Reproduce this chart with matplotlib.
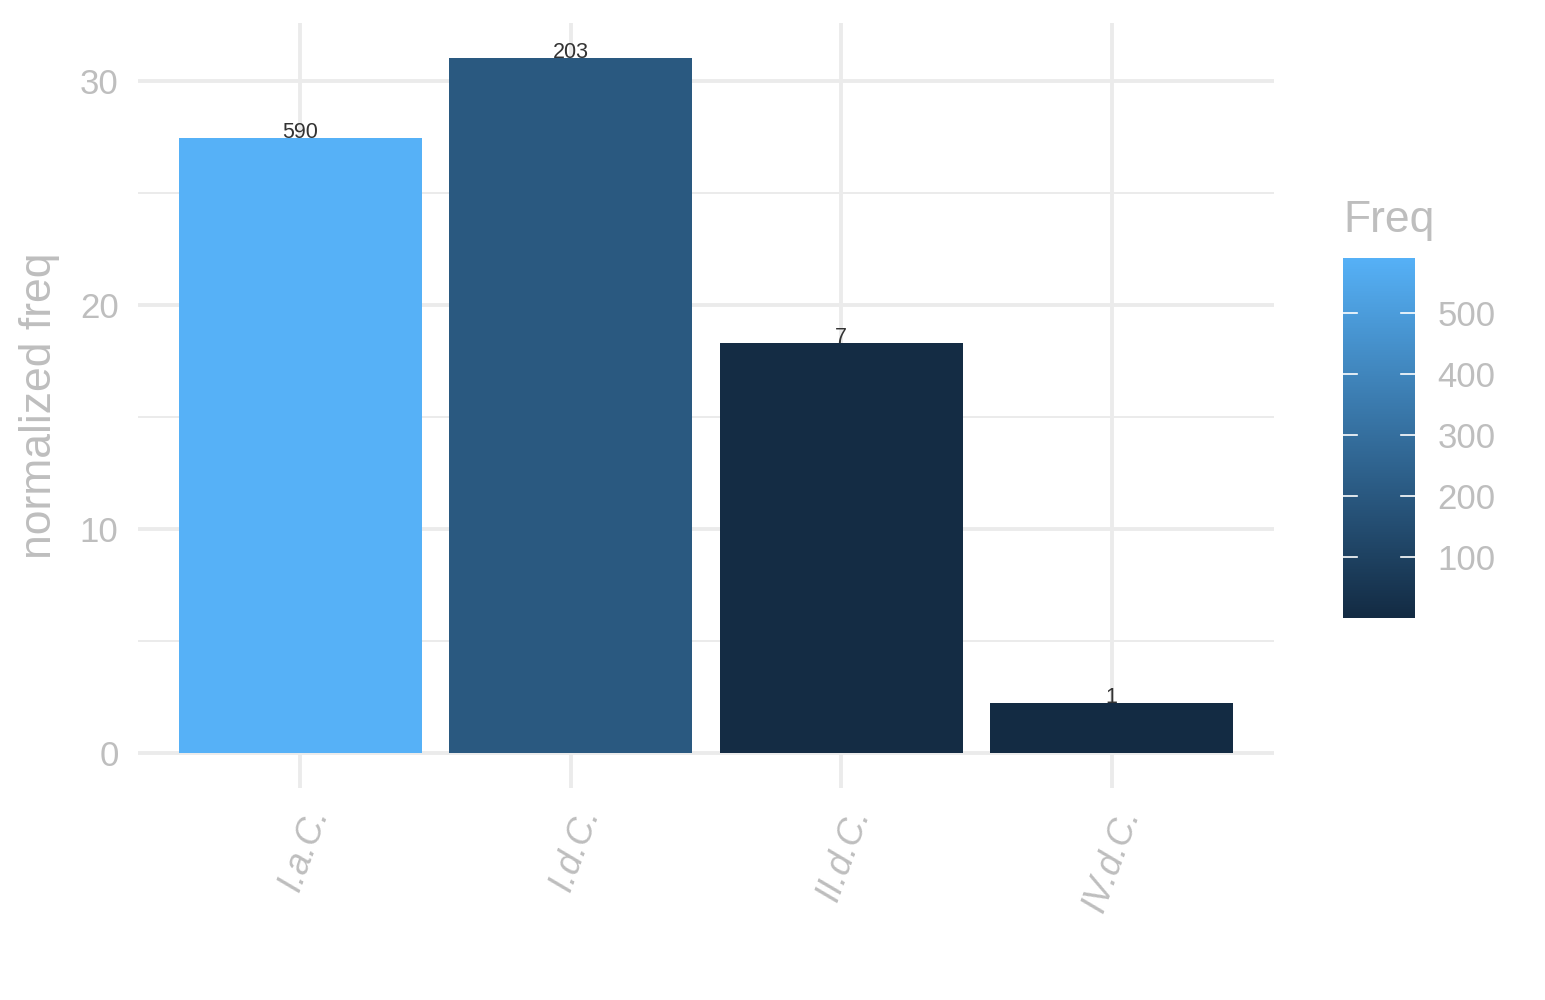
import numpy as np
import matplotlib
matplotlib.use("Agg")
import matplotlib.pyplot as plt
from matplotlib.colors import LinearSegmentedColormap, Normalize
from matplotlib.transforms import ScaledTranslation

plt.rcParams['font.family'] = ['Liberation Sans', 'DejaVu Sans']

# Data
categories = ["I.a.C.", "I.d.C.", "II.d.C.", "IV.d.C."]
norm_freq = [27.46, 31.03, 18.30, 2.25]
freq = [590, 203, 7, 1]
y_ticks = [0, 10, 20, 30]
y_minor = [5, 15, 25]
cbar_ticks = [100, 200, 300, 400, 500]

GREY = "#BEBEBE"
GRID = "#EBEBEB"

cmap = LinearSegmentedColormap.from_list("gg", ["#132B43", "#56B1F7"])
norm = Normalize(vmin=min(freq), vmax=max(freq))

fig = plt.figure(figsize=(15.45, 10), dpi=100)
ax = fig.add_axes([138/1545, 1 - 788/1000, (1274 - 138)/1545, (788 - 23)/1000])

x = np.arange(1, len(categories) + 1)
ymax = max(norm_freq)
ax.set_xlim(0.4, len(categories) + 0.6)
ax.set_ylim(-0.05 * ymax, ymax * 1.05)

# grid
for v in y_minor:
    ax.axhline(v, color=GRID, lw=1.4, zorder=0)
for v in y_ticks:
    ax.axhline(v, color=GRID, lw=2.8, zorder=0)
for xi in x:
    ax.axvline(xi, color=GRID, lw=2.8, zorder=0)

ax.bar(x, norm_freq, width=0.9, color=[cmap(norm(f)) for f in freq], zorder=2)
for xi, v, f in zip(x, norm_freq, freq):
    ax.text(xi, v, str(f), ha='center', va='baseline', fontsize=15.5,
            color='#333333', zorder=3)

for s in ax.spines.values():
    s.set_visible(False)
ax.tick_params(length=0)
ax.set_yticks(y_ticks)
ax.set_yticklabels([str(t) for t in y_ticks], fontsize=25, color=GREY)
ax.tick_params(axis='y', pad=14)
ax.set_xticks(x)
ax.set_xticklabels(categories, fontsize=26, color=GREY, style='italic',
                   rotation=70, ha='right', rotation_mode='anchor', va='center')
ax.tick_params(axis='x', pad=18)
offset = ScaledTranslation(19/100, 4/100, fig.dpi_scale_trans)
for lbl in ax.get_xticklabels():
    lbl.set_transform(lbl.get_transform() + offset)
ax.set_ylabel("normalized freq", fontsize=32, color=GREY, labelpad=14)

# colorbar
cax = fig.add_axes([1343/1545, 1 - 618/1000, 72/1545, 360/1000])
grad = np.linspace(min(freq), max(freq), 256).reshape(-1, 1)
cax.imshow(grad, aspect='auto', cmap=cmap, norm=norm, origin='lower',
           extent=[0, 1, min(freq), max(freq)])
cax.set_xlim(0, 1)
cax.set_ylim(min(freq), max(freq))
for t in cbar_ticks:
    cax.plot([0, 0.2], [t, t], color='white', lw=1.2)
    cax.plot([0.8, 1], [t, t], color='white', lw=1.2)
cax.set_xticks([])
cax.yaxis.tick_right()
cax.set_yticks(cbar_ticks)
cax.set_yticklabels([str(t) for t in cbar_ticks], fontsize=25, color=GREY)
cax.tick_params(axis='y', length=0, pad=16)
for s in cax.spines.values():
    s.set_visible(False)
fig.text(1343/1545, 1 - 232/1000, "Freq", fontsize=32, color=GREY,
         ha='left', va='baseline')

fig.savefig("out.png", dpi=100, facecolor='white')
